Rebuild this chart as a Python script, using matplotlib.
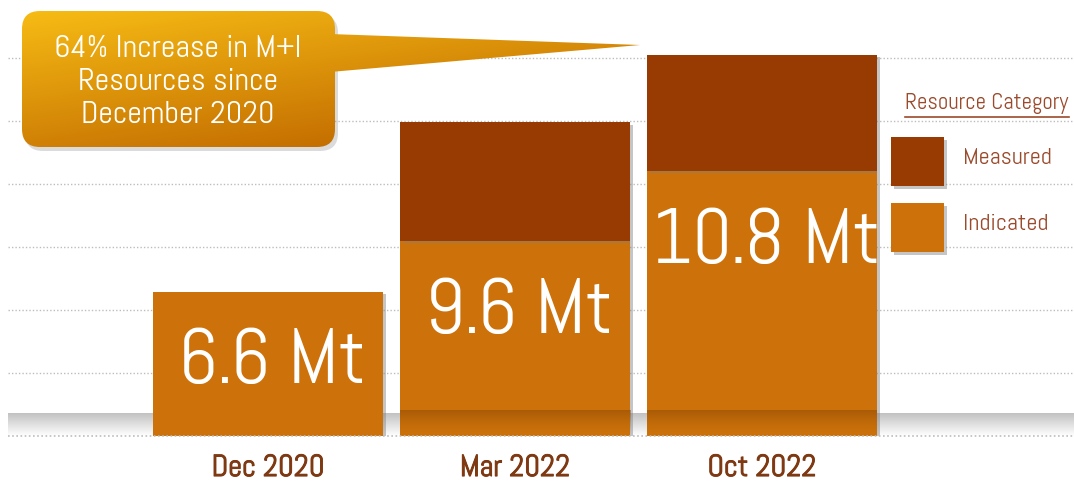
import numpy as np
import matplotlib
matplotlib.use("Agg")
import matplotlib.pyplot as plt
from matplotlib.patches import FancyBboxPatch, Polygon, Rectangle
from matplotlib import patheffects as pe

# ---------------- data ----------------
categories = ["Dec 2020", "Mar 2022", "Oct 2022"]
indicated = [6.6, 7.5, 8.74]          # Mt
measured = [0.0, 2.1, 2.06]           # Mt
total_labels = ["6.6 Mt", "9.6 Mt", "10.8 Mt"]
series_names = ["Measured", "Indicated"]
legend_title = "Resource Category"
callout_text = "64% Increase in M+I\nResources since\nDecember 2020"

# ---------------- style ----------------
FONT = ["Abel", "DejaVu Sans"]
C_IND = "#CD720B"
C_MEAS = "#973B02"
C_LABEL = "#7E3913"
C_LEG = "#9B4A2C"
GRID = "#BDBDBD"

W, H = 1074, 483
fig = plt.figure(figsize=(W / 100, H / 100), dpi=100)
fig.patch.set_facecolor("white")

base_px = 436
v0 = 4.05
px_per_unit = 56.5
ax = fig.add_axes([8 / W, (H - base_px) / H, (W - 8) / W, base_px / H])
ytop = v0 + base_px / px_per_unit
x = np.arange(len(categories))
cat_px = 247.0
xl = (0 - (268 - 8) / cat_px, 2 + (W - 762) / cat_px)
bw = 230 / cat_px

# floor gradient
grad = np.linspace(0, 1, 64).reshape(-1, 1)
floor = np.ones((64, 1, 4))
for k in range(3):
    floor[..., k] = 1 - 0.24 * grad
ax.imshow(floor, extent=[xl[0], xl[1], v0 + 23 / px_per_unit, v0], aspect="auto",
          origin="upper", zorder=0.5, interpolation="bilinear")

shadow = [pe.SimplePatchShadow(offset=(2, -1.5), shadow_rgbFace="#808080", alpha=0.45), pe.Normal()]
ax.bar(x, indicated, width=bw, color=C_IND, zorder=2, path_effects=shadow)
ax.bar(x, measured, width=bw, bottom=indicated, color=C_MEAS, zorder=2, path_effects=shadow)

# darker bottom shading on bars 2 and 3
shade = np.zeros((64, 1, 4))
shade[..., 0] = 0.5
shade[..., 1] = 0.25
shade[..., 3] = (np.linspace(0, 1, 64) ** 1.5 * 0.45).reshape(-1, 1)
for i in [1, 2]:
    ax.imshow(shade, extent=[x[i] - bw / 2, x[i] + bw / 2, v0 + 26 / px_per_unit, v0],
              aspect="auto", origin="upper", zorder=2.5, interpolation="bilinear")

# value labels
for xi, ind, lab in zip(x, indicated, total_labels):
    ax.annotate(lab, xy=(xi, ind), xytext=(4, -72), textcoords="offset pixels",
                ha="center", va="center", color="white", fontsize=56,
                family=FONT, zorder=4)

ax.set_xlim(*xl)
ax.set_ylim(v0, ytop)
step = 63 / px_per_unit
ax.set_yticks(v0 + step * np.arange(1, 7))
ax.yaxis.grid(True, linestyle=(0, (1, 1.5)), color=GRID, linewidth=1.0, zorder=0)
ax.set_axisbelow(True)
ax.axhline(v0, color=GRID, linestyle=(0, (1, 1.5)), linewidth=1.2, zorder=3, clip_on=False)
ax.tick_params(axis="y", left=False, labelleft=False)
ax.set_xticks(x)
ax.set_xticklabels(categories, fontsize=22, color=C_LABEL, family=FONT)
for t in ax.get_xticklabels():
    t.set_path_effects([pe.withStroke(linewidth=0.7, foreground=C_LABEL)])
ax.tick_params(axis="x", length=0, pad=13)
for s in ax.spines.values():
    s.set_visible(False)
ax.set_facecolor("none")

# ---------------- overlay (callout, legend) ----------------
ov = fig.add_axes([0, 0, 1, 1])
ov.axis("off")
ov.set_zorder(5)
ov.patch.set_alpha(0)

ov.add_patch(FancyBboxPatch((25, 15), 313, 136, boxstyle="round,pad=0,rounding_size=18",
                            fc="#999999", ec="none", alpha=0.35, zorder=1))
box = FancyBboxPatch((22, 11), 313, 136, boxstyle="round,pad=0,rounding_size=18",
                     fc="none", ec="none", zorder=2)
ptr = Polygon([(330, 34), (640, 45), (330, 72)], closed=True, fc="none", ec="none", zorder=2)
ov.add_patch(box)
ov.add_patch(ptr)

gx, gy = np.meshgrid(np.linspace(0, 1, 300), np.linspace(0, 1, 100))
tt = np.clip(0.45 * gx + 0.75 * gy, 0, 1)
c0 = np.array([0.97, 0.74, 0.08])
c1 = np.array([0.76, 0.42, 0.0])
img = c0[None, None, :] * (1 - tt[..., None]) + c1[None, None, :] * tt[..., None]
for patch in (box, ptr):
    im = ov.imshow(img, extent=[20, 645, 150, 8], aspect="auto", origin="upper",
                   zorder=2, interpolation="bilinear")
    im.set_clip_path(patch)
ov.set_xlim(0, W)
ov.set_ylim(H, 0)

ov.text(178, 82, callout_text, ha="center", va="center", color="white",
        fontsize=23, family=FONT, linespacing=1.22, zorder=3)

# legend
ov.text(905, 103, legend_title, ha="left", va="center", color=C_LEG, fontsize=16.5,
        family=FONT, zorder=3)
ov.plot([905, 1069], [117, 117], color=C_LEG, lw=1.2, zorder=3)
leg_colors = [C_MEAS, C_IND]
leg_y = [137, 203]
for name, col, yy in zip(series_names, leg_colors, leg_y):
    ov.add_patch(Rectangle((891, yy), 53, 49, fc=col, ec="none", zorder=3,
                           path_effects=[pe.SimplePatchShadow(offset=(2, -2), shadow_rgbFace="#808080", alpha=0.45), pe.Normal()]))
    ov.text(963, yy + 22, name, ha="left", va="center", color=C_LEG, fontsize=17.5,
            family=FONT, zorder=3)

fig.savefig("out.png", dpi=100, facecolor="white")
